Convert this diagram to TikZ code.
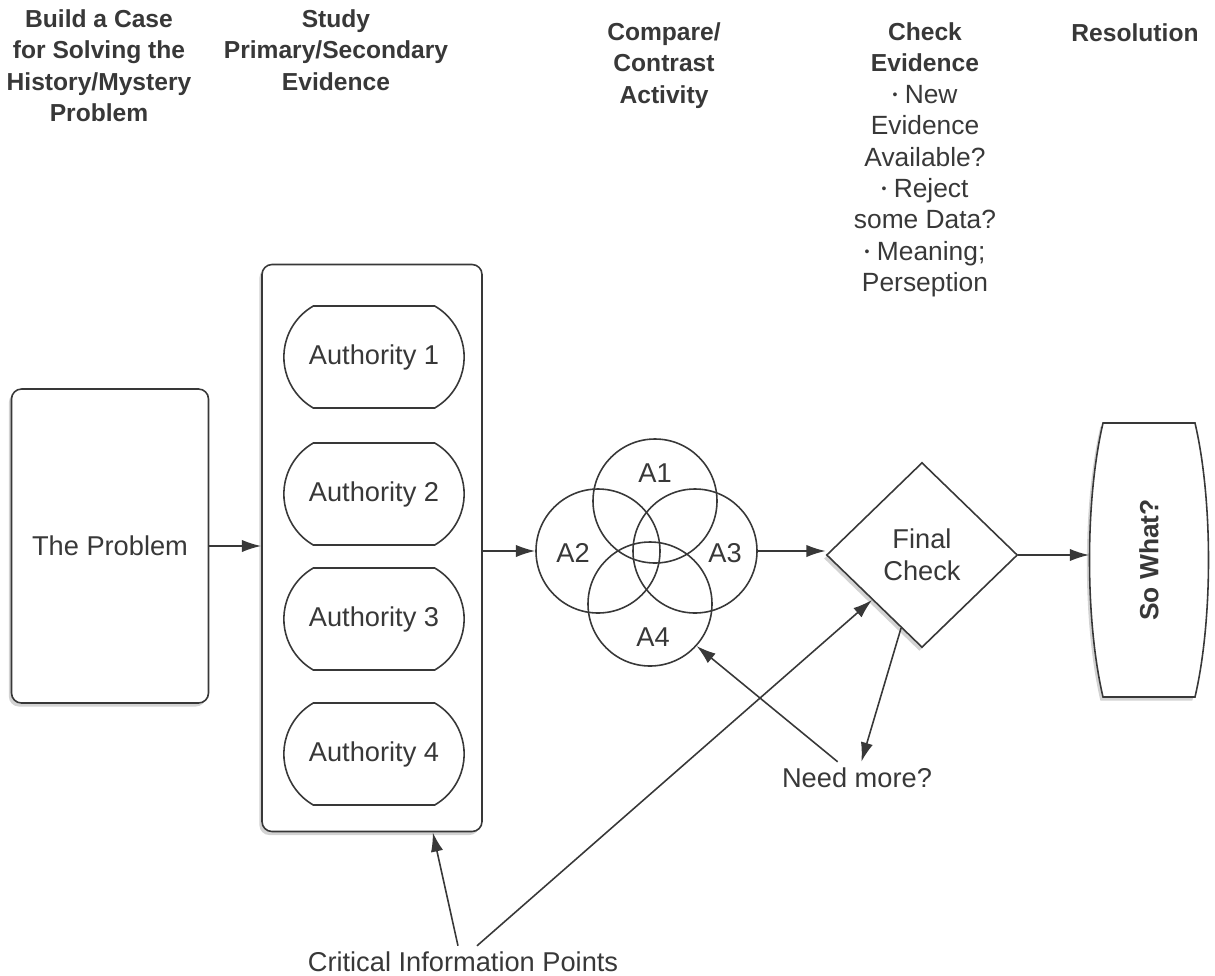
\documentclass[tikz,border=0pt]{standalone}
\usepackage{fontspec}
\setmainfont{Liberation Sans}
\usepackage{tikz}
\usetikzlibrary{shapes.geometric, shapes.misc, arrows.meta, shadows}
\definecolor{ink}{gray}{0.22}
\newcommand{\dotitem}{{\fontsize{8}{8}\selectfont\raisebox{0.5ex}{•}}\ }

\begin{document}
\begin{tikzpicture}[x=0.2mm, y=-0.2mm,
    every node/.style={text=ink},
    head/.style={align=center, anchor=north, inner sep=0pt, font=\bfseries\fontsize{14}{17.9}\selectfont},
    body/.style={font=\fontsize{15.5}{18}\selectfont},
    shade/.style={drop shadow={shadow xshift=-1.5pt, shadow yshift=-2pt, opacity=0.35}},
    box/.style={draw=ink, line width=0.9pt, fill=white, rounded corners=2mm, body},
    pill/.style={draw=ink, line width=0.9pt, rounded rectangle, rounded rectangle arc length=120,
        minimum width=38.4mm, minimum height=20.4mm, body},
    venn/.style={draw=ink, line width=0.9pt, circle, minimum size=24.8mm, inner sep=0pt},
    link/.style={draw=ink, line width=0.9pt, -{Latex[length=11pt, width=7pt]}}
]
        \useasboundingbox (0,0) rectangle (1215,975);

        % Column headings
        \node[head] (hcase) at (99,9) {Build a Case\\for Solving the\\History/Mystery\\Problem};
        \node[head] (hstudy) at (336,9) {Study\\Primary/Secondary\\Evidence};
        \node[head] (hcompare) at (664,22) {Compare/\\Contrast\\Activity};
        \node[head] (hcheck) at (925,22) {Check\\Evidence\\{\mdseries\fontsize{15}{17.9}\selectfont\dotitem New}\\
            {\mdseries\fontsize{15}{17.9}\selectfont Evidence}\\{\mdseries\fontsize{15}{17.9}\selectfont Available?}\\
            {\mdseries\fontsize{15}{17.9}\selectfont\dotitem Reject}\\{\mdseries\fontsize{15}{17.9}\selectfont some Data?}\\
            {\mdseries\fontsize{15}{17.9}\selectfont\dotitem Meaning;}\\{\mdseries\fontsize{15}{17.9}\selectfont Perseption}};
        \node[head] (hres) at (1135,23) {Resolution};

        % Nodes
        \node[box, shade, minimum width=39.4mm, minimum height=62.8mm] (problem) at (110,546) {The Problem};
        \node[box, shade, minimum width=44mm, minimum height=113.4mm] (evidence) at (372,548) {};
        \node[pill] (auth1) at (374,357) {Authority 1};
        \node[pill] (auth2) at (374,494) {Authority 2};
        \node[pill] (auth3) at (374,619) {Authority 3};
        \node[pill] (auth4) at (374,754) {Authority 4};

        \node[venn] (a1) at (655,501) {};
        \node[venn] (a2) at (598,551) {};
        \node[venn] (a3) at (695,551) {};
        \node[venn] (a4) at (650,604) {};
        \node[body] (la1) at (655,473) {A1};
        \node[body] (la2) at (573,553) {A2};
        \node[body] (la3) at (725,553) {A3};
        \node[body] (la4) at (653,637) {A4};

        \node[draw=ink, line width=0.9pt, fill=white, shade, diamond, inner sep=0pt,
            minimum width=38.2mm, minimum height=37mm, align=center, body] (check) at (922,555) {Final\\Check};

        % So What? outline with bulging sides
        \draw[draw=ink, line width=0.9pt, fill=white, shade] (1103,423) -- (1195,423)
            .. controls (1213,500) and (1213,620) .. (1195,697) -- (1103,697)
            .. controls (1085,620) and (1085,500) .. (1103,423) -- cycle;
        \node[minimum width=23.8mm, minimum height=54.8mm, font=\bfseries\fontsize{15}{18}\selectfont] (sowhat)
            at (1149,560) {\rotatebox{90}{So What?}};

        \node[body] (needmore) at (857,778) {Need more?};
        \node[body] (critical) at (463,962) {Critical Information Points};

        % Arrows
        \draw[link] (problem.east) -- (problem.east -| evidence.west);
        \draw[link] (a2.west -| evidence.east) -- (a2.west);
        \draw[link] (a3.east) -- (a3.east -| check.west);
        \draw[link] (check.east) -- (check.east -| sowhat.west);
        \draw[link] (check.254) -- (needmore.75);
        \draw[link] (needmore.140) -- (a4.-42);
        \draw[link] ([xshift=-1mm]critical.north) -- ([xshift=-10mm]evidence.south east);
        \draw[link] ([xshift=2.8mm]critical.north) -- (check.222);
\end{tikzpicture}
\end{document}
